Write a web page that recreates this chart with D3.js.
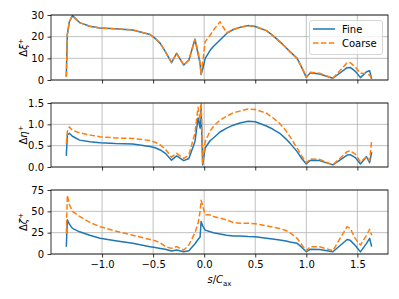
<!DOCTYPE html>
<html><head><meta charset="utf-8">
<script src="https://cdn.jsdelivr.net/npm/d3@7"></script>
<style>body{margin:0;background:#fff}svg{display:block}text{font-family:"DejaVu Sans",sans-serif}</style>
</head><body>
<script>
const sVals = [-1.35,-1.34,-1.32,-1.29,-1.22,-1.12,-1.02,-0.87,-0.70,-0.53,-0.48,-0.43,-0.38,-0.32,-0.27,-0.20,-0.15,-0.09,-0.06,-0.04,-0.03,-0.015,0.01,0.06,0.09,0.155,0.22,0.285,0.35,0.43,0.50,0.61,0.67,0.74,0.80,0.84,0.91,0.955,1.00,1.04,1.13,1.26,1.40,1.43,1.48,1.53,1.59,1.62,1.64];
const xiFine = [1.5,21,27,29.7,26.5,24.8,24,23.6,23.1,21.0,19.2,16.9,13.1,8.0,12.3,6.9,9.2,18.8,12,7.7,2.5,5,10,13.8,15.5,18.5,21.5,23.3,24.3,25.1,24.7,22.8,20.6,17.7,15.0,13.1,10,5.8,1.2,3.4,2.8,0.8,5.7,5.8,4.0,1.1,3.8,4.3,0.5];
const xiCoarse = [1.5,21,27,29.5,26.5,24.8,24,23.6,23.1,21.0,19.2,16.9,13.1,8.0,12.3,6.9,9.2,18.8,13,8,2.3,8,17.7,20.8,23,26.9,21.8,23.3,24.3,25.1,24.7,22.8,20.6,17.7,15.0,13.1,10,5.8,1.2,3.6,3.1,0.8,8.0,8.0,6,3.1,3,2.3,0.5];
const etaFine = [0.26,0.75,0.79,0.72,0.63,0.59,0.57,0.55,0.54,0.48,0.45,0.40,0.32,0.16,0.26,0.15,0.20,0.6,1.15,0.91,1.38,0.05,0.45,0.62,0.68,0.82,0.91,0.98,1.03,1.07,1.06,0.96,0.89,0.79,0.66,0.56,0.36,0.2,0.07,0.16,0.15,0.05,0.28,0.29,0.22,0.07,0.24,0.10,0.35];
const etaCoarse = [0.55,0.83,0.94,0.86,0.80,0.75,0.71,0.68,0.67,0.62,0.58,0.52,0.42,0.23,0.32,0.20,0.28,0.8,1.4,1.1,1.6,0.08,0.6,0.85,0.95,1.1,1.19,1.27,1.31,1.36,1.35,1.26,1.16,1.02,0.85,0.71,0.44,0.26,0.10,0.19,0.18,0.05,0.36,0.38,0.30,0.12,0.24,0.15,0.63];
const zetaFine = [8.6,40,35,30,26,22,18.4,15.5,12.5,8.6,7.5,6.5,5.5,3.5,4.7,2.7,3.9,12,17,20,38,33,28,26,25,23.5,22,21,21,20.5,20.3,18.5,17.5,16.4,15.2,14,12.5,8,2.7,5.5,5.3,2.7,17,16,10,2.5,12.5,18.4,8.6];
const zetaCoarse = [24,69,58,50,44,37,32,27,22,17,15.5,13,8.6,6.6,8.6,4.7,10.5,25,36,50,63,57,46,45.7,44,42,40,37,36,36,35.5,33,31.5,30,27.5,25,18.4,11,3.9,8.6,8.6,3.9,32,30,18,10.5,22,29,22];
const xTicks = [-1.0,-0.5,0.0,0.5,1.0,1.5];
const panels = [
  {sym:"ξ", fine: xiFine, coarse: xiCoarse, domain:[0,30], ticks:[0,10,20,30], fmt:d3.format("d")},
  {sym:"η", fine: etaFine, coarse: etaCoarse, domain:[0,1.5], ticks:[0,0.5,1.0,1.5], fmt:d3.format(".1f")},
  {sym:"ζ", fine: zetaFine, coarse: zetaCoarse, domain:[0,75], ticks:[0,25,50,75], fmt:d3.format("d")}
];
const legendNames = ["Fine","Coarse"];
const W=399,H=299;
const L=51,R=388;
const tops=[15,103,190], bots=[80,167,254];
const blue="#1f77b4", orange="#ff7f0e";
const svg=d3.select("body").append("svg").attr("width",W).attr("height",H);
const x=d3.scaleLinear().domain([-1.5,1.8]).range([L,R]);
const minus=s=>s.replace("-","−");
panels.forEach((p,i)=>{
  const y=d3.scaleLinear().domain(p.domain).range([bots[i],tops[i]]);
  const g=svg.append("g");
  const cid="clip"+i;
  svg.append("clipPath").attr("id",cid).append("rect").attr("x",L).attr("y",tops[i]).attr("width",R-L).attr("height",bots[i]-tops[i]);
  g.selectAll(".gx").data(xTicks).enter().append("line").attr("x1",d=>x(d)).attr("x2",d=>x(d)).attr("y1",tops[i]).attr("y2",bots[i]).attr("stroke","#b0b0b0").attr("stroke-width",0.8);
  g.selectAll(".gy").data(p.ticks).enter().append("line").attr("y1",d=>y(d)).attr("y2",d=>y(d)).attr("x1",L).attr("x2",R).attr("stroke","#b0b0b0").attr("stroke-width",0.8);
  const line=d3.line().x((d,j)=>x(sVals[j])).y(d=>y(d));
  const lg=g.append("g").attr("clip-path",`url(#${cid})`);
  lg.append("path").attr("d",line(p.fine)).attr("fill","none").attr("stroke",blue).attr("stroke-width",1.5).attr("stroke-linejoin","round");
  lg.append("path").attr("d",line(p.coarse)).attr("fill","none").attr("stroke",orange).attr("stroke-width",1.5).attr("stroke-dasharray","5.5,2.4").attr("stroke-linejoin","round");
  const ya=g.append("g").attr("transform",`translate(${L},0)`).call(d3.axisLeft(y).tickValues(p.ticks).tickFormat(p.fmt).tickSizeOuter(0).tickSize(3.5).tickPadding(3.5));
  ya.select(".domain").remove();
  ya.selectAll("text").attr("font-size","10px").attr("fill","#000");
  ya.selectAll("line").attr("stroke","#000").attr("stroke-width",0.8);
  const xa=g.append("g").attr("transform",`translate(0,${bots[i]})`).call(d3.axisBottom(x).tickValues(xTicks).tickFormat(i===2?(d=>minus(d3.format(".1f")(d))):(()=>"")).tickSizeOuter(0).tickSize(3.5).tickPadding(3.5));
  xa.select(".domain").remove();
  xa.selectAll("text").attr("font-size","10px").attr("fill","#000");
  xa.selectAll("line").attr("stroke","#000").attr("stroke-width",0.8);
  g.append("rect").attr("x",L).attr("y",tops[i]).attr("width",R-L).attr("height",bots[i]-tops[i]).attr("fill","none").attr("stroke","#000").attr("stroke-width",0.8);
  const cy=(tops[i]+bots[i])/2;
  const t=g.append("text").attr("transform",`translate(27,${cy}) rotate(-90)`).attr("text-anchor","middle").attr("font-size","10px");
  t.append("tspan").text("Δ");
  t.append("tspan").attr("font-style","italic").text(p.sym);
  t.append("tspan").attr("font-size","7px").attr("dy","-4").text("+");
});
const xl=svg.append("text").attr("x",(L+R)/2).attr("y",283).attr("text-anchor","middle").attr("font-size","10px");
xl.append("tspan").attr("font-style","italic").text("s");
xl.append("tspan").text("/");
xl.append("tspan").attr("font-style","italic").text("C");
xl.append("tspan").attr("font-size","7px").attr("dy","2.5").text("ax");
const leg=svg.append("g");
leg.append("rect").attr("x",309.5).attr("y",20.5).attr("width",73).attr("height",34).attr("rx",2.5).attr("fill","#fff").attr("fill-opacity",0.8).attr("stroke","#cccccc").attr("stroke-width",0.8);
legendNames.forEach((n,k)=>{
  const yy=29+k*14;
  leg.append("line").attr("x1",313).attr("x2",335).attr("y1",yy).attr("y2",yy).attr("stroke",k?orange:blue).attr("stroke-width",1.5).attr("stroke-dasharray",k?"5.5,2.4":null);
  leg.append("text").attr("x",342).attr("y",yy+3.5).attr("font-size","10px").text(n);
});
</script>
</body></html>
